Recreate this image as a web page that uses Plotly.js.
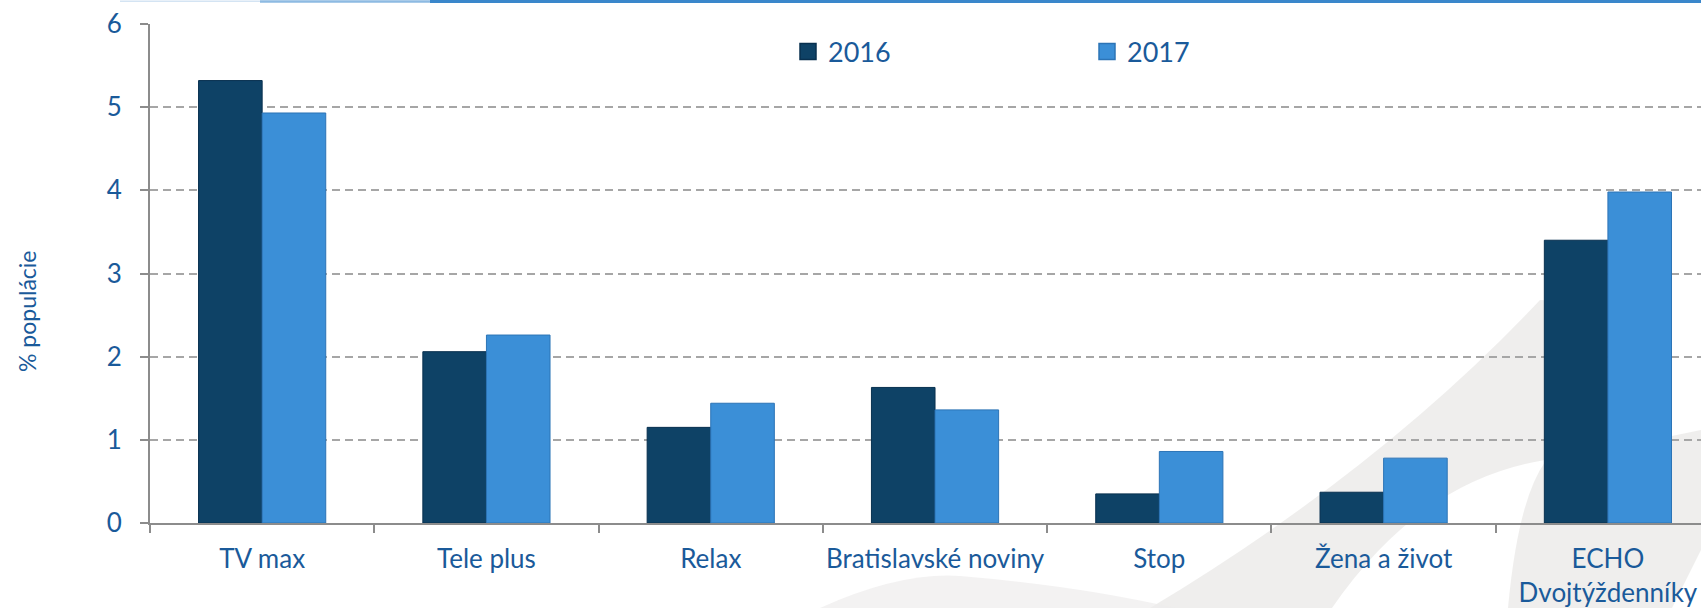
<!DOCTYPE html>
<html>
<head>
<meta charset="utf-8">
<script src="https://cdn.plot.ly/plotly-3.0.1.min.js"></script>
<style>html,body{margin:0;padding:0;background:#fff;}#chart{width:1701px;height:608px;}</style>
</head>
<body>
<div id="chart"></div>
<script>
var categories = ["TV max", "Tele plus", "Relax", "Bratislavské noviny", "Stop", "Žena a život", "ECHO<br>Dvojtýždenníky"];
var series2016 = [5.32, 2.06, 1.15, 1.63, 0.35, 0.37, 3.40];
var series2017 = [4.93, 2.26, 1.44, 1.36, 0.86, 0.78, 3.98];
var seriesNames = ["2016", "2017"];
var yTicks = [0, 1, 2, 3, 4, 5, 6];
var yTitle = "% populácie";

var W = 1701, H = 608, ML = 150, MR = 0, MT = 24, MB = 85;
function PX(x) { return (x - ML) / (W - ML - MR); }
function PY(y) { return (H - MB - y) / (H - MT - MB); }
function P(x, y) { return PX(x).toFixed(5) + "," + PY(y).toFixed(5); }

var txt = "#1a5a9a";
var fontFam = "Lato, 'Open Sans', sans-serif";
var col2016 = "#0e4266", col2017 = "#3b8fd7";
var edge2016 = "#08304f", edge2017 = "#2c74b6";

var traces = [
  {type: "bar", name: seriesNames[0], x: categories, y: series2016, showlegend: false,
   marker: {color: col2016, line: {color: edge2016, width: 1}}},
  {type: "bar", name: seriesNames[1], x: categories, y: series2017, showlegend: false,
   marker: {color: col2017, line: {color: edge2017, width: 1}}},
  {type: "scatter", mode: "markers", name: seriesNames[0], x: [categories[0]], y: [null], showlegend: true,
   marker: {symbol: "square", size: 16, color: col2016, line: {color: edge2016, width: 1.5}}},
  {type: "scatter", mode: "markers", name: seriesNames[1], x: [categories[0]], y: [null], showlegend: true,
   marker: {symbol: "square", size: 16, color: col2017, line: {color: edge2017, width: 1.5}}}
];

var shapes = [
  {type: "path", xref: "paper", yref: "paper", layer: "below",
   path: "M" + P(1150, 608) + " Q" + P(1380, 470) + " " + P(1540, 300) + " L" + P(1575, 302) + " L" + P(1545, 460) + " Q" + P(1420, 480) + " " + P(1332, 608) + " Z",
   fillcolor: "#e9e8e7", line: {width: 0}, opacity: 0.75},
  {type: "path", xref: "paper", yref: "paper", layer: "below",
   path: "M" + P(1508, 608) + " Q" + P(1518, 500) + " " + P(1545, 462) + " L" + P(1701, 430) + " L" + P(1701, 550) + " L" + P(1672, 608) + " Z",
   fillcolor: "#e9e8e7", line: {width: 0}, opacity: 0.75},
  {type: "path", xref: "paper", yref: "paper", layer: "below",
   path: "M" + P(820, 608) + " Q" + P(900, 572) + " " + P(960, 576) + " Q" + P(1080, 586) + " " + P(1175, 608) + " Z",
   fillcolor: "#eeedec", line: {width: 0}, opacity: 0.7},
  {type: "line", xref: "paper", yref: "paper", layer: "above",
   x0: PX(120), x1: PX(260), y0: PY(1.2), y1: PY(1.2), line: {color: "#d4e4f3", width: 1.5}},
  {type: "line", xref: "paper", yref: "paper", layer: "above",
   x0: PX(260), x1: PX(430), y0: PY(1.4), y1: PY(1.4), line: {color: "#8dbae2", width: 2.5}},
  {type: "line", xref: "paper", yref: "paper", layer: "above",
   x0: PX(430), x1: 1.0, y0: PY(1.5), y1: PY(1.5), line: {color: "#3a87cb", width: 3}}
];

var annotations = [
  {text: yTitle, xref: "paper", yref: "paper", x: PX(27), y: PY(312), xanchor: "center", yanchor: "middle",
   textangle: -90, showarrow: false, font: {size: 23, color: txt, family: fontFam}}
];

var layout = {
  width: W, height: H,
  margin: {l: ML, r: MR, t: MT, b: MB, pad: 0},
  paper_bgcolor: "#ffffff",
  plot_bgcolor: "rgba(0,0,0,0)",
  font: {family: fontFam, color: txt, size: 26},
  barmode: "group",
  bargap: 0.433,
  bargroupgap: 0,
  showlegend: true,
  legend: {orientation: "h", x: PX(788), xanchor: "left", y: PY(52), yanchor: "middle",
           font: {size: 27, color: txt, family: fontFam}, bgcolor: "rgba(0,0,0,0)",
           entrywidth: 254, entrywidthmode: "pixels", traceorder: "normal", itemsizing: "trace"},
  xaxis: {
    type: "category", range: [-0.5, 6.415], fixedrange: true,
    showline: true, linecolor: "#8c8c8c", linewidth: 2,
    ticks: "outside", tickson: "boundaries", ticklen: 8, tickwidth: 2, tickcolor: "#8c8c8c",
    showgrid: false, ticklabelstandoff: 12, tickangle: 0,
    tickfont: {size: 26, color: txt, family: fontFam},
    automargin: false
  },
  yaxis: {
    range: [0, 6], tickvals: yTicks, ticktext: yTicks.map(String), fixedrange: true,
    showline: true, linecolor: "#8c8c8c", linewidth: 2,
    ticks: "outside", ticklen: 8, tickwidth: 2, tickcolor: "#8c8c8c",
    showgrid: true, gridcolor: "#a6a6a6", gridwidth: 2, griddash: "8px,5px",
    zeroline: false, ticklabelstandoff: 13,
    tickfont: {size: 26, color: txt, family: fontFam},
    automargin: false
  },
  shapes: shapes,
  annotations: annotations
};

Plotly.newPlot("chart", traces, layout, {displayModeBar: false, staticPlot: true});
</script>
</body>
</html>
